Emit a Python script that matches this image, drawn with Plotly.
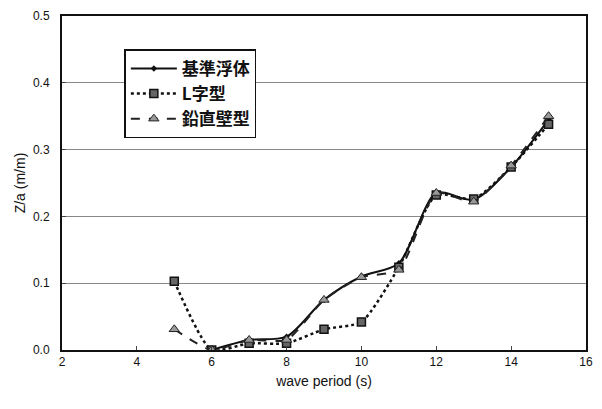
import plotly.graph_objects as go

# wave period (s)
periods_ref = [6, 7, 8, 9, 10, 11, 12, 13, 14, 15]
periods = [5, 6, 7, 8, 9, 10, 11, 12, 13, 14, 15]

# heave response Z/a (m/m)
z_ref = [0.0, 0.015, 0.02, 0.075, 0.11, 0.13, 0.235, 0.225, 0.274, 0.345]
z_lshape = [0.103, 0.0, 0.01, 0.01, 0.031, 0.042, 0.124, 0.232, 0.226, 0.274, 0.338]
z_wall = [0.031, 0.0, 0.015, 0.015, 0.075, 0.109, 0.12, 0.235, 0.222, 0.276, 0.35]

names = ["基準浮体", "L字型", "鉛直壁型"]
x_ticks = [2, 4, 6, 8, 10, 12, 14, 16]
y_ticks = [0.0, 0.1, 0.2, 0.3, 0.4, 0.5]

fig = go.Figure()
fig.add_trace(go.Scatter(
    x=periods_ref, y=z_ref, name=names[0], mode="lines+markers",
    line=dict(color="#111", width=2, shape="spline", smoothing=0.8),
    marker=dict(symbol="diamond", size=5, color="#111"),
))
fig.add_trace(go.Scatter(
    x=periods, y=z_lshape, name=names[1], mode="lines+markers",
    line=dict(color="#111", width=2.5, dash="dot", shape="spline", smoothing=0.6),
    marker=dict(symbol="square", size=8, color="#666", line=dict(color="#111", width=1.5)),
))
fig.add_trace(go.Scatter(
    x=periods, y=z_wall, name=names[2], mode="lines+markers",
    line=dict(color="#222", width=2, dash="dash", shape="spline", smoothing=0.6),
    marker=dict(symbol="triangle-up", size=9, color="#999", line=dict(color="#222", width=1)),
))

fig.update_layout(
    width=602, height=409,
    margin=dict(l=62, r=9, t=16, b=59),
    paper_bgcolor="white", plot_bgcolor="white",
    font=dict(family="Liberation Sans, Arial, sans-serif", color="#111", size=12),
    showlegend=True,
    legend=dict(
        x=0.119, y=0.9, xanchor="left", yanchor="top",
        bgcolor="white", bordercolor="#111", borderwidth=1.5,
        font=dict(family="Noto Sans CJK JP, sans-serif", size=17, color="#111", weight="bold"),
        itemwidth=46,
    ),
)
fig.update_xaxes(
    range=[2, 16], tickvals=x_ticks, ticks="inside", ticklen=4,
    showline=True, linecolor="#111", linewidth=2, mirror=True,
    showgrid=False, zeroline=False,
    title=dict(text="wave period (s)", font=dict(size=14), standoff=8),
)
fig.update_yaxes(
    range=[0, 0.5], tickvals=y_ticks, tickformat=".1f", ticks="inside", ticklen=4,
    ticklabelstandoff=8,
    showline=True, linecolor="#111", linewidth=2, mirror=True,
    showgrid=True, gridcolor="#888", gridwidth=1, zeroline=False,
    title=dict(text="Z/a (m/m)", font=dict(size=14), standoff=4),
)

fig.write_html("out.html")
